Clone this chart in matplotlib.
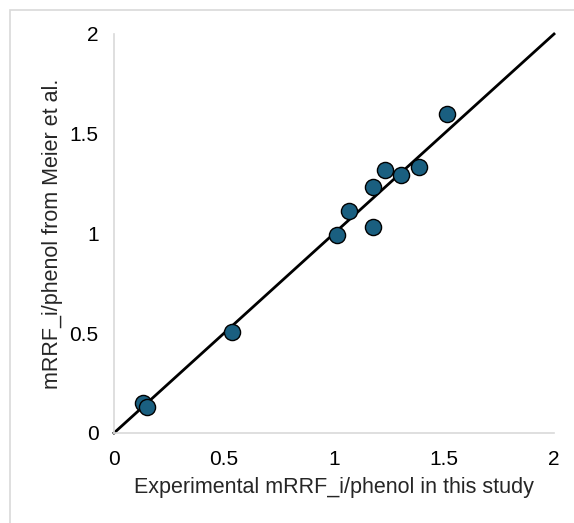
import numpy as np
import matplotlib.pyplot as plt
from matplotlib.patches import Rectangle

plt.rcParams['font.family'] = ['Liberation Sans', 'DejaVu Sans']

# data
experimental = [1.514, 1.232, 1.305, 1.388, 1.176, 1.070, 1.015, 1.176, 0.538, 0.133, 0.151]
meier = [1.597, 1.318, 1.292, 1.333, 1.235, 1.114, 0.992, 1.034, 0.508, 0.152, 0.129]
ticks = [0, 0.5, 1, 1.5, 2]
tick_labels = ["0", "0.5", "1", "1.5", "2"]

fig = plt.figure(figsize=(5.74, 5.23), dpi=100)
ax = fig.add_axes([0.1986, 0.1721, 0.7666, 0.7629])

# outer frame around the chart
fig.patches.append(Rectangle((10 / 574, -0.1), 1.2, 1 - 10 / 523 + 0.1,
                             transform=fig.transFigure, fill=False,
                             edgecolor="#d9d9d9", linewidth=1.2))

# 1:1 line
ax.plot([0, 2], [0, 2], color="black", linewidth=2.0, clip_on=False, zorder=2)

ax.scatter(experimental, meier, s=135, color="#1a5f80", edgecolor="black",
           linewidth=1.0, zorder=3, clip_on=False)

ax.set_xlim(0, 2)
ax.set_ylim(0, 2)
ax.set_xticks(ticks)
ax.set_xticklabels(tick_labels)
ax.set_yticks(ticks)
ax.set_yticklabels(tick_labels)
ax.tick_params(axis="both", length=0, labelsize=15, colors="#000000")
ax.tick_params(axis="x", pad=12)
ax.tick_params(axis="y", pad=11)

for side in ["top", "right"]:
    ax.spines[side].set_visible(False)
for side in ["left", "bottom"]:
    ax.spines[side].set_color("#d9d9d9")
    ax.spines[side].set_linewidth(1.2)

ax.set_xlabel("Experimental mRRF_i/phenol in this study", fontsize=15.5, labelpad=6, color="#262626")
ax.set_ylabel("mRRF_i/phenol from Meier et al.", fontsize=15.5, labelpad=5, color="#262626")

fig.savefig("out.png", dpi=100)
